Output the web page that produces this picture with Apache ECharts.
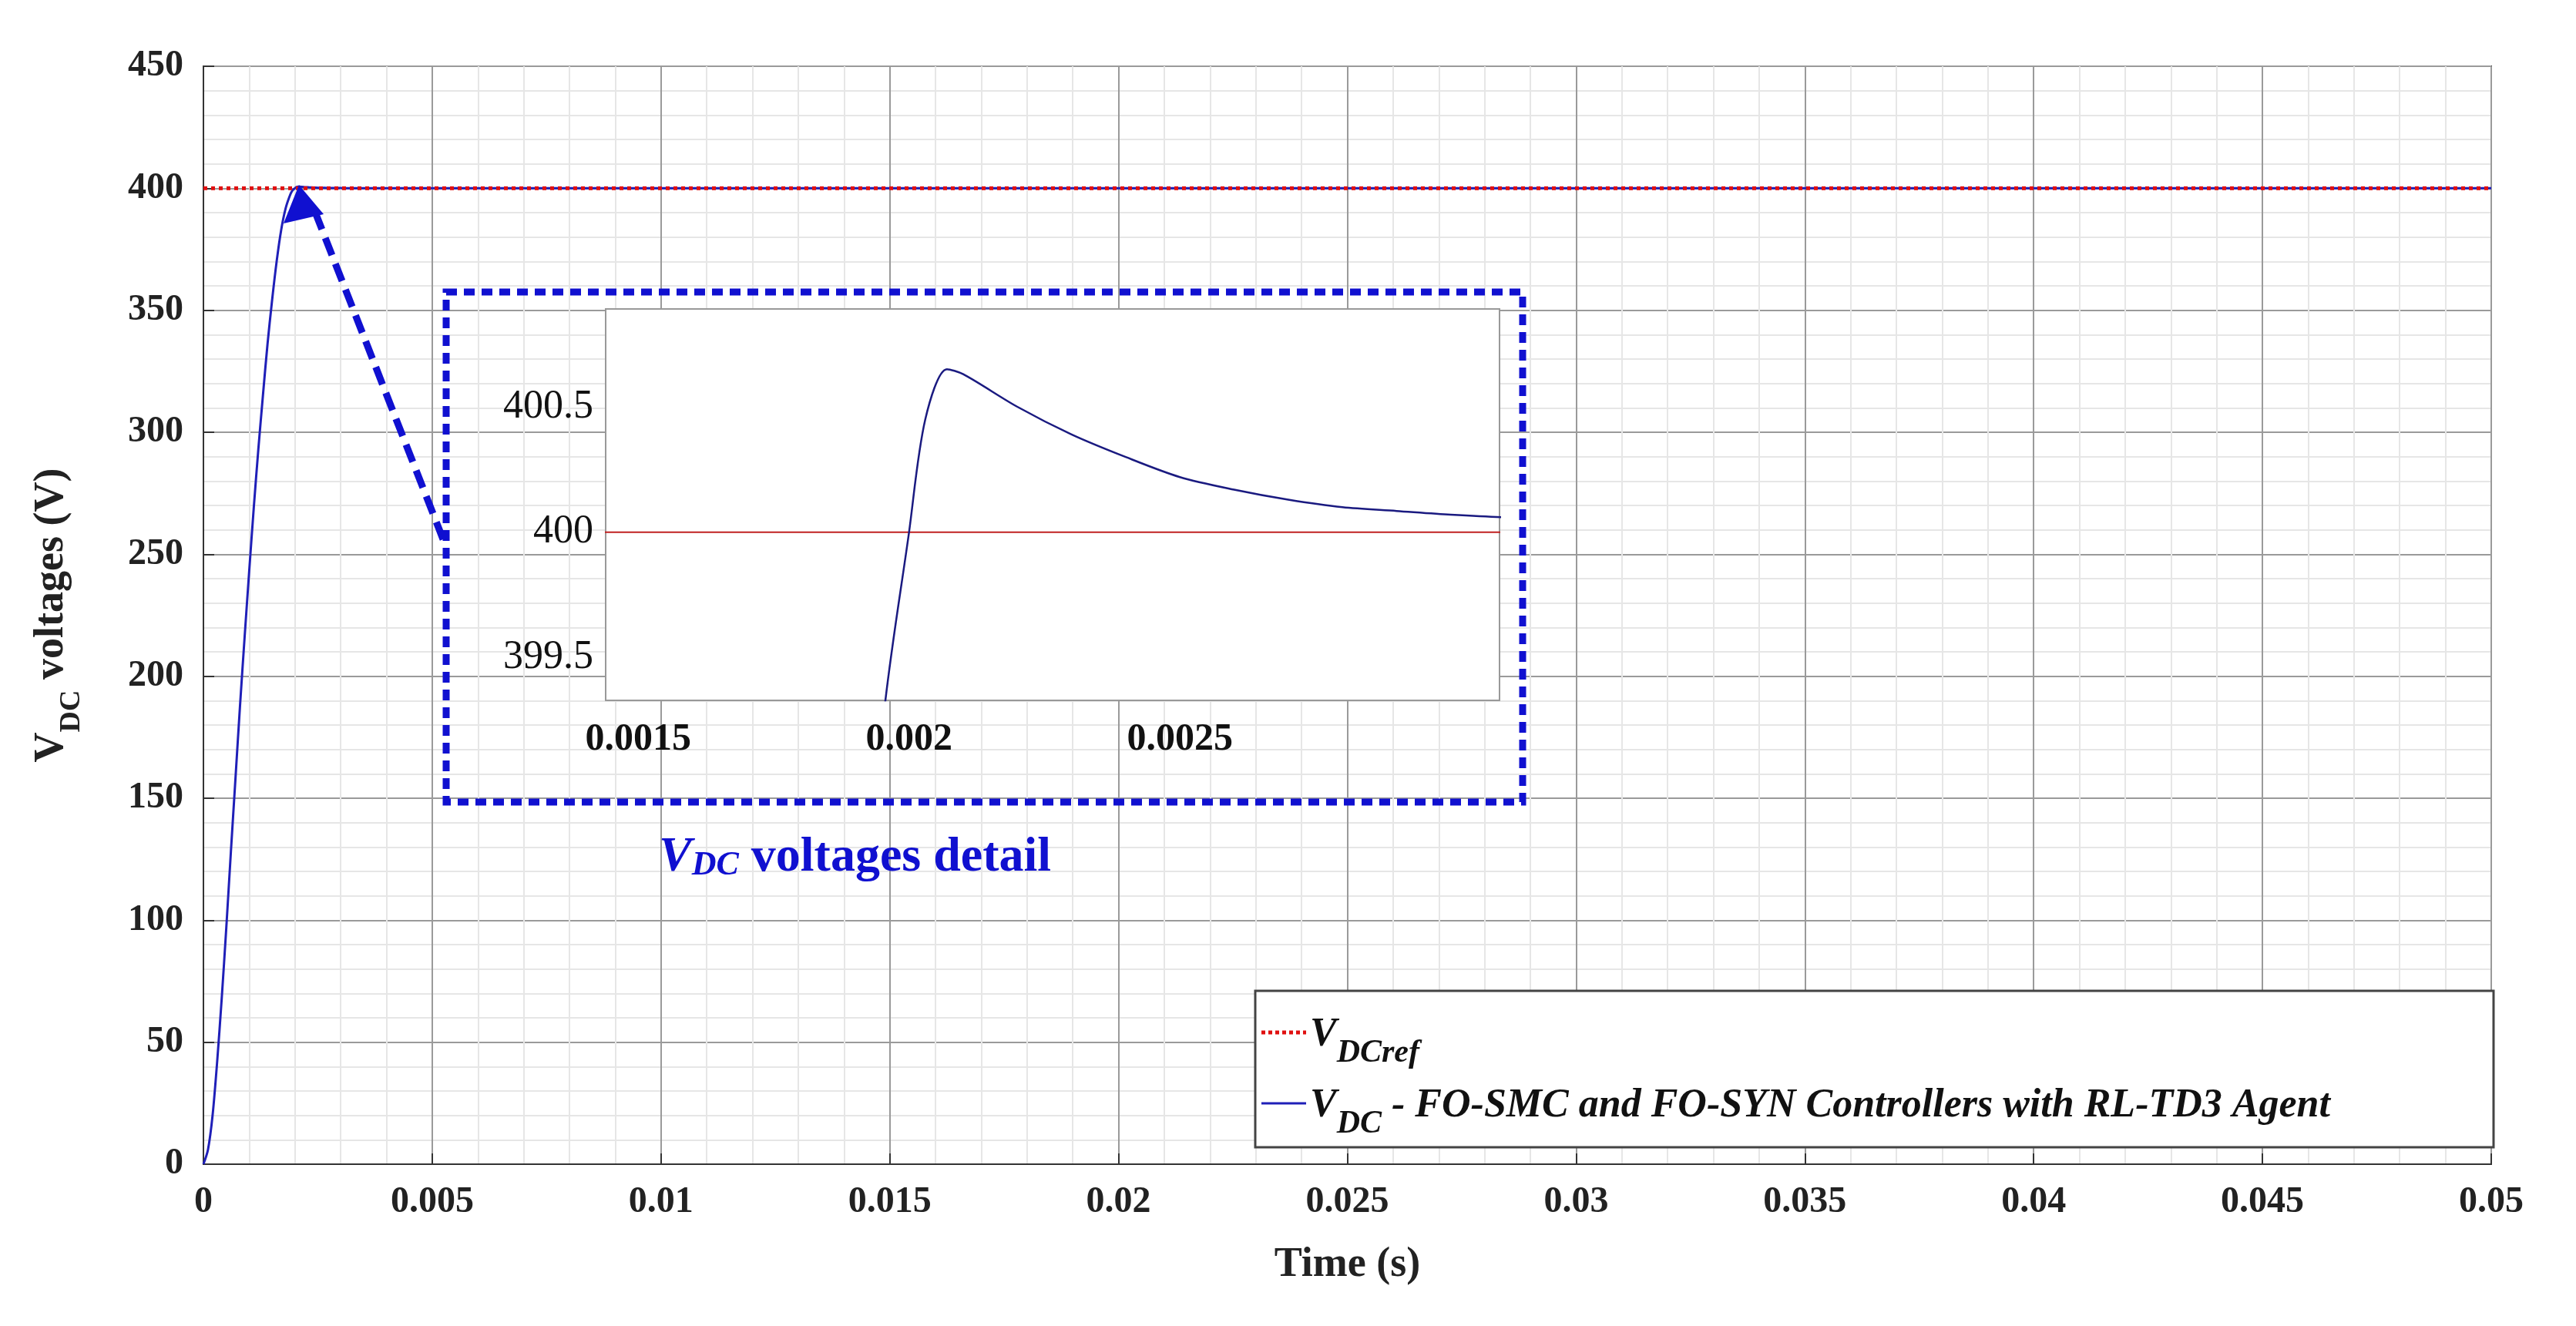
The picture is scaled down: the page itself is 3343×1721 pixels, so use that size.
<!DOCTYPE html>
<html>
<head>
  <meta charset="utf-8">
  <title>VDC voltages</title>
  <script src="https://cdn.jsdelivr.net/npm/echarts@6/dist/echarts.min.js"></script>
  <style>html,body{margin:0;background:#fff}</style>
</head>
<body>
  <div id="chart" style="width:3343px;height:1721px;"></div>
  <script>
    // main time axis ticks
    const xTicks = [0, 0.005, 0.01, 0.015, 0.02, 0.025, 0.03, 0.035, 0.04, 0.045, 0.05];
    // VDC response (time s, voltage V)
    const vdcTime = [0, 0.0001, 0.0002, 0.0003, 0.0004, 0.0005, 0.0006, 0.0007, 0.0008, 0.0009, 0.001, 0.0011, 0.0012, 0.0013, 0.0014, 0.0015, 0.0016, 0.0017, 0.0018, 0.0019, 0.00195, 0.002, 0.00203, 0.00207, 0.0021, 0.0022, 0.0023, 0.0024, 0.0025, 0.0026, 0.0027, 0.0028, 0.0029, 0.003, 0.0031, 0.004, 0.01, 0.05];
    const vdcValue = [0, 6, 20, 42, 68, 97, 128, 158, 188, 216, 243, 269, 293, 315, 336, 354, 370, 383, 392, 397.5, 399.2, 400.0, 400.45, 400.65, 400.63, 400.5, 400.39, 400.3, 400.22, 400.17, 400.13, 400.1, 400.085, 400.07, 400.06, 400.02, 400, 400];
    const refTime = [0, 0.05];
    const refValue = [400, 400];
    const insetXTicks = [0.0015, 0.002, 0.0025];
    const insetYTicks = [399.5, 400, 400.5];

    const vdc = vdcTime.map((t, i) => [t, vdcValue[i]]);
    const ref = refTime.map((t, i) => [t, refValue[i]]);

    const FONT = 'Liberation Serif';
    const fmt = v => String(+v.toFixed(4));
    const chart = echarts.init(document.getElementById('chart'));

    chart.setOption({
      animation: false,
      textStyle: { fontFamily: FONT },
      grid: [
        { left: 264, right: 110, top: 86, bottom: 210, show: true, borderColor: '#333', borderWidth: 2 },
        { left: 786, width: 1160, top: 401, height: 508, show: true, borderColor: '#999', borderWidth: 2, backgroundColor: '#fff', z: 5 }
      ],
      xAxis: [
        {
          type: 'value', gridIndex: 0, min: 0, max: 0.05, interval: 0.005,
          name: 'Time (s)', nameLocation: 'middle', nameGap: 104,
          nameTextStyle: { fontFamily: FONT, fontWeight: 'bold', fontSize: 54, color: '#222' },
          axisLine: { lineStyle: { color: '#333', width: 2 } },
          axisTick: { inside: true, length: 14, lineStyle: { color: '#333', width: 2 } },
          axisLabel: { formatter: fmt, fontFamily: FONT, fontWeight: 'bold', fontSize: 48, color: '#222', margin: 26 },
          splitLine: { show: true, lineStyle: { color: '#9a9a9a', width: 2 } },
          minorTick: { show: false, splitNumber: 5 },
          minorSplitLine: { show: true, lineStyle: { color: '#e6e6e6', width: 2 } }
        },
        {
          type: 'value', gridIndex: 1, min: 0.00144, max: 0.00309,
          axisLine: { show: false },
          axisTick: { show: false, customValues: insetXTicks },
          axisLabel: { show: true, customValues: insetXTicks, formatter: fmt, fontFamily: FONT, fontWeight: 'bold', fontSize: 50, color: '#111', margin: 26 },
          splitLine: { show: true, lineStyle: { color: '#bbb', width: 2 } }
        }
      ],
      yAxis: [
        {
          type: 'value', gridIndex: 0, min: 0, max: 450, interval: 50,
          name: '{b|V}{s|DC}{b| voltages (V)}', nameLocation: 'middle', nameGap: 170,
          nameTextStyle: {
            rich: {
              b: { fontFamily: FONT, fontWeight: 'bold', fontSize: 54, color: '#222' },
              s: { fontFamily: FONT, fontWeight: 'bold', fontSize: 38, color: '#222', verticalAlign: 'bottom', padding: [0, 0, -18, 0] }
            }
          },
          axisLine: { lineStyle: { color: '#333', width: 2 } },
          axisTick: { inside: true, length: 14, lineStyle: { color: '#333', width: 2 } },
          axisLabel: { fontFamily: FONT, fontWeight: 'bold', fontSize: 48, color: '#222', margin: 26 },
          splitLine: { show: true, lineStyle: { color: '#9a9a9a', width: 2 } },
          minorTick: { show: false, splitNumber: 5 },
          minorSplitLine: { show: true, lineStyle: { color: '#e6e6e6', width: 2 } }
        },
        {
          type: 'value', gridIndex: 1, min: 399.33, max: 400.89,
          axisLine: { show: false },
          axisTick: { show: false, customValues: insetYTicks },
          axisLabel: { show: true, customValues: insetYTicks, fontFamily: FONT, fontSize: 52, color: '#111', margin: 16 },
          splitLine: { show: true, lineStyle: { color: '#bbb', width: 2 } }
        }
      ],
      series: [
        { name: 'vdc', type: 'line', xAxisIndex: 0, yAxisIndex: 0, data: vdc, showSymbol: false, smooth: 0.3, lineStyle: { color: '#1f1fb8', width: 3 }, z: 3 },
        { name: 'ref', type: 'line', xAxisIndex: 0, yAxisIndex: 0, data: ref, showSymbol: false, lineStyle: { color: '#e01010', width: 5, type: [5, 5] }, z: 4 },
        { name: 'ref-inset', type: 'line', xAxisIndex: 1, yAxisIndex: 1, data: ref, showSymbol: false, lineStyle: { color: '#c02020', width: 2 }, z: 6 },
        { name: 'vdc-inset', type: 'line', xAxisIndex: 1, yAxisIndex: 1, data: vdc, showSymbol: false, smooth: 0.3, clip: true, lineStyle: { color: '#1a1a80', width: 2.5 }, z: 7 }
      ],
      graphic: [
        // dashed box around the inset
        { type: 'rect', shape: { x: 579, y: 379, width: 1397, height: 662 }, z: 4,
          style: { fill: 'none', stroke: '#1010d0', lineWidth: 9, lineDash: [14, 9] } },
        // arrow from box to the peak
        { type: 'line', shape: { x1: 575, y1: 700, x2: 405, y2: 265 }, z: 10,
          style: { stroke: '#1010d0', lineWidth: 9, lineDash: [24, 12] } },
        { type: 'polygon', shape: { points: [[388, 240], [368, 290], [420, 278]] }, z: 10,
          style: { fill: '#1010d0' } },
        { type: 'text', x: 855, y: 1080, z: 10,
          style: { text: '{i|V}{is|DC}{b| voltages detail}', rich: {
            i: { fontFamily: FONT, fontStyle: 'italic', fontWeight: 'bold', fontSize: 64, fill: '#1010d0' },
            is: { fontFamily: FONT, fontStyle: 'italic', fontWeight: 'bold', fontSize: 44, fill: '#1010d0', padding: [22, 0, 0, 0] },
            b: { fontFamily: FONT, fontWeight: 'bold', fontSize: 64, fill: '#1010d0' } } } },
        // legend
        { type: 'rect', shape: { x: 1629, y: 1286, width: 1607, height: 203 }, z: 10,
          style: { fill: '#fff', stroke: '#444', lineWidth: 3 } },
        { type: 'line', shape: { x1: 1637, y1: 1340, x2: 1695, y2: 1340 }, z: 11,
          style: { stroke: '#e01010', lineWidth: 5, lineDash: [5, 4] } },
        { type: 'line', shape: { x1: 1637, y1: 1432, x2: 1695, y2: 1432 }, z: 11,
          style: { stroke: '#1f1fb8', lineWidth: 3 } },
        { type: 'text', x: 1700, y: 1300, z: 11,
          style: { text: '{v|V}{s|DCref}', rich: {
            v: { fontFamily: FONT, fontStyle: 'italic', fontWeight: 'bold', fontSize: 52, fill: '#111' },
            s: { fontFamily: FONT, fontStyle: 'italic', fontWeight: 'bold', fontSize: 42, fill: '#111', padding: [46, 0, 0, 0] } } } },
        { type: 'text', x: 1700, y: 1392, z: 11,
          style: { text: '{v|V}{s|DC}{v| - FO-SMC and FO-SYN Controllers with RL-TD3 Agent}', rich: {
            v: { fontFamily: FONT, fontStyle: 'italic', fontWeight: 'bold', fontSize: 52, fill: '#111' },
            s: { fontFamily: FONT, fontStyle: 'italic', fontWeight: 'bold', fontSize: 42, fill: '#111', padding: [46, 0, 0, 0] } } } }
      ]
    });
  </script>
</body>
</html>
